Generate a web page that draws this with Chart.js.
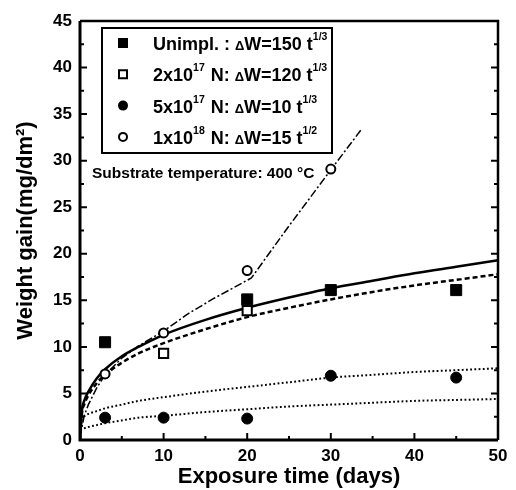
<!DOCTYPE html>
<html>
<head>
<meta charset="utf-8">
<script src="https://cdn.jsdelivr.net/npm/chart.js@4/dist/chart.umd.min.js"></script>
<style>
  body { margin: 0; background: #fff; }
  #wrap { width: 516px; height: 490px; }
</style>
</head>
<body>
<div id="wrap"><canvas id="chart" width="516" height="490"></canvas></div>
<script>
const FONT = "'Liberation Sans', Arial, sans-serif";

// measured points (exposure days / weight gain mg/dm2)
const unimplDays = [3, 20, 30, 45];
const unimplGain = [10.5, 15.1, 16.1, 16.1];
const n2e17Days = [10, 20];
const n2e17Gain = [9.3, 13.9];
const n5e17Days = [3, 10, 20, 30, 45];
const n5e17Gain = [2.4, 2.4, 2.3, 6.9, 6.7];
const n1e18Days = [3, 10, 20, 30];
const n1e18Gain = [7.1, 11.5, 18.2, 29.1];

// fitted curves
const fitDays = [0, 0.25, 0.5, 1, 2, 3, 5, 7, 10, 15, 20, 25, 30, 35, 40, 45, 50];
const fitUnimpl = [0, 3.3, 4.2, 5.2, 6.6, 7.6, 9.0, 10.0, 11.3, 12.9, 14.2, 15.3, 16.3, 17.1, 17.9, 18.6, 19.3];
const fit2e17 = [0, 3.0, 3.8, 4.8, 6.1, 7.0, 8.3, 9.3, 10.4, 11.9, 13.2, 14.2, 15.1, 15.9, 16.6, 17.2, 17.8];
const dotDays = [0, 1, 2, 3, 5, 7, 10, 15, 20, 25, 30, 35, 40, 45, 50];
const dotUpper = [2.3, 2.8, 3.1, 3.4, 3.8, 4.2, 4.6, 5.2, 5.7, 6.2, 6.7, 7.0, 7.3, 7.5, 7.7];
const dotLower = [1.1, 1.4, 1.6, 1.8, 2.1, 2.4, 2.6, 3.0, 3.3, 3.6, 3.8, 4.0, 4.2, 4.3, 4.4];
const dashDotDays = [0, 0.5, 1, 2, 3, 5, 7, 10, 13, 16, 20.5, 25, 30, 33.6];
const dashDotGain = [0.3, 2.6, 3.8, 5.6, 7.0, 8.8, 10.1, 11.7, 13.6, 15.2, 17.4, 23.0, 29.0, 33.3];

const xTicks = [0, 10, 20, 30, 40, 50];
const yTicks = [0, 5, 10, 15, 20, 25, 30, 35, 40, 45];

function pts(xs, ys) {
  return xs.map((x, i) => ({ x: x, y: ys[i] }));
}

function lineSet(xs, ys, dash, width, tension) {
  return {
    data: pts(xs, ys),
    showLine: true,
    borderColor: "#000",
    borderWidth: width,
    borderDash: dash,
    pointRadius: 0,
    cubicInterpolationMode: tension ? "monotone" : "default",
    tension: 0,
    order: 2,
  };
}

function pointSet(xs, ys, style, filled, r) {
  return {
    data: pts(xs, ys),
    showLine: false,
    pointStyle: style,
    pointRadius: r,
    backgroundColor: filled ? "#000" : "#fff",
    borderColor: "#000",
    borderWidth: filled ? 1 : 2,
    order: 1,
  };
}

// legend rows: text parts, "s" = superscript, "d" = small delta
const legendRows = [
  { style: "rect", filled: true, parts: [["Unimpl. : "], ["Δ", "d"], ["W=150 t"], ["1/3", "s"]] },
  { style: "rect", filled: false, parts: [["2x10"], ["17", "s"], [" N: "], ["Δ", "d"], ["W=120 t"], ["1/3", "s"]] },
  { style: "circle", filled: true, parts: [["5x10"], ["17", "s"], [" N: "], ["Δ", "d"], ["W=10 t"], ["1/3", "s"]] },
  { style: "circle", filled: false, parts: [["1x10"], ["18", "s"], [" N: "], ["Δ", "d"], ["W=15 t"], ["1/2", "s"]] },
];

const framePlugin = {
  id: "frame",
  afterDraw(chart) {
    const { ctx, chartArea: a, scales } = chart;
    const xs = scales.x, ys = scales.y;
    ctx.save();
    ctx.strokeStyle = "#000";
    // ticks inward
    ctx.lineWidth = 2;
    for (let v = 0; v <= 45; v += 2.5) {
      const y = ys.getPixelForValue(v);
      const len = v % 5 === 0 ? 7 : 4;
      ctx.beginPath();
      ctx.moveTo(a.left, y); ctx.lineTo(a.left + len, y);
      ctx.moveTo(a.right, y); ctx.lineTo(a.right - len, y);
      ctx.stroke();
    }
    for (let v = 0; v <= 50; v += 5) {
      const x = xs.getPixelForValue(v);
      const len = v % 10 === 0 ? 7 : 4;
      ctx.beginPath();
      ctx.moveTo(x, a.bottom); ctx.lineTo(x, a.bottom - len);
      ctx.stroke();
    }
    // frame
    ctx.lineWidth = 3;
    ctx.beginPath();
    ctx.moveTo(a.left, a.top); ctx.lineTo(a.left, a.bottom); ctx.lineTo(a.right, a.bottom);
    ctx.stroke();
    ctx.lineWidth = 2.5;
    ctx.beginPath();
    ctx.moveTo(a.left, a.top); ctx.lineTo(a.right, a.top); ctx.lineTo(a.right, a.bottom);
    ctx.stroke();

    // legend box
    const bx = a.left + 22, by = a.top + 7, bw = 230, bh = 125;
    ctx.lineWidth = 2;
    ctx.fillStyle = "#fff";
    ctx.fillRect(bx, by, bw, bh);
    ctx.strokeRect(bx, by, bw, bh);
    legendRows.forEach((row, i) => {
      const cy = by + 15 + i * 31.3;
      const mx = bx + 21;
      ctx.fillStyle = row.filled ? "#000" : "#fff";
      ctx.lineWidth = 2;
      ctx.beginPath();
      if (row.style === "rect") {
        ctx.rect(mx - 4, cy - 4, 8, 8);
      } else {
        ctx.arc(mx, cy, 4, 0, Math.PI * 2);
      }
      ctx.fill();
      ctx.stroke();
      let tx = bx + 51;
      ctx.fillStyle = "#000";
      ctx.textBaseline = "alphabetic";
      row.parts.forEach(([t, kind]) => {
        let f = "bold 18px " + FONT, dy = 7;
        if (kind === "s") { f = "bold 10.5px " + FONT; dy = -3; }
        if (kind === "d") { f = "bold 13px " + FONT; }
        ctx.font = f;
        ctx.fillText(t, tx, cy + dy);
        tx += ctx.measureText(t).width + (kind === "s" ? 1 : 0);
      });
    });

    // annotation
    ctx.font = "bold 15.5px " + FONT;
    ctx.fillStyle = "#000";
    ctx.textBaseline = "middle";
    ctx.fillText("Substrate temperature: 400 °C", a.left + 12, a.top + 153);
    ctx.restore();
  },
};

new Chart(document.getElementById("chart"), {
  type: "scatter",
  data: {
    datasets: [
      lineSet(fitDays, fitUnimpl, [], 2.5, true),
      lineSet(fitDays, fit2e17, [5, 3], 2.5, true),
      lineSet(dotDays, dotUpper, [1.8, 2.4], 2, true),
      lineSet(dotDays, dotLower, [1.8, 2.4], 2, true),
      lineSet(dashDotDays, dashDotGain, [8, 2.5, 2, 2.5], 1.5, false),
      pointSet(unimplDays, unimplGain, "rect", true, 7.8),
      pointSet(n2e17Days, n2e17Gain, "rect", false, 6.5),
      pointSet(n5e17Days, n5e17Gain, "circle", true, 5.5),
      pointSet(n1e18Days, n1e18Gain, "circle", false, 4.5),
    ],
  },
  options: {
    responsive: false,
    animation: false,
    layout: { padding: { left: 0, right: 18, top: 21, bottom: 0 } },
    plugins: { legend: { display: false }, tooltip: { enabled: false } },
    scales: {
      x: {
        type: "linear",
        min: 0,
        max: 50,
        afterBuildTicks: (s) => { s.ticks = xTicks.map((v) => ({ value: v })); },
        afterFit: (s) => { s.height = 50; },
        grid: { display: false, drawTicks: false },
        border: { display: false },
        ticks: { color: "#000", padding: 6, font: { family: FONT, size: 17, weight: "bold" } },
        title: {
          display: true,
          text: "Exposure time (days)",
          color: "#000",
          padding: { top: 0, bottom: 0 },
          font: { family: FONT, size: 22, weight: "bold" },
        },
      },
      y: {
        type: "linear",
        min: 0,
        max: 45,
        afterBuildTicks: (s) => { s.ticks = yTicks.map((v) => ({ value: v })); },
        afterFit: (s) => { s.width = 80; },
        grid: { display: false, drawTicks: false },
        border: { display: false },
        ticks: { color: "#000", padding: 8, font: { family: FONT, size: 17, weight: "bold" } },
        title: {
          display: true,
          text: "Weight gain(mg/dm²)",
          color: "#000",
          padding: { top: 13, bottom: 0 },
          font: { family: FONT, size: 22, weight: "bold" },
        },
      },
    },
  },
  plugins: [framePlugin],
});
</script>
</body>
</html>
